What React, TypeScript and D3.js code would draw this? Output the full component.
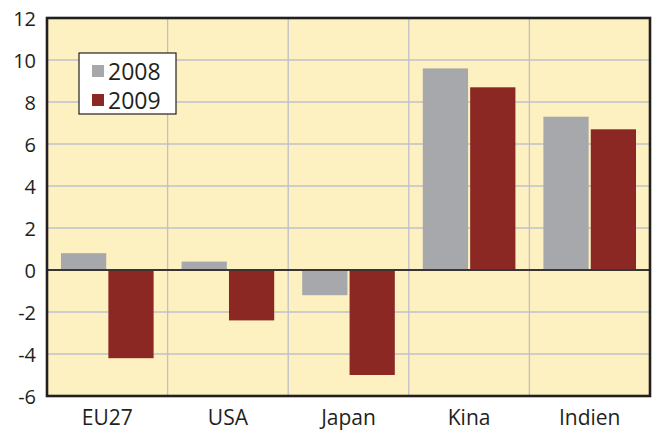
import React from "react";
import * as d3 from "d3";

const categories = ["EU27", "USA", "Japan", "Kina", "Indien"];
const seriesNames = ["2008", "2009"];
const values2008 = [0.8, 0.4, -1.2, 9.6, 7.3];
const values2009 = [-4.2, -2.4, -5.0, 8.7, 6.7];
const yTicks = [-6, -4, -2, 0, 2, 4, 6, 8, 10, 12];

const colors = ["#A7A8AB", "#8B2824"];
const W = 653, H = 430;
const M = { left: 47, right: 3, top: 18, bottom: 34 };
const FONT = "'Open Sans', 'Noto Sans', sans-serif";

export default function App() {
  const x = d3.scaleBand<string>().domain(categories).range([M.left, W - M.right]);
  const y = d3.scaleLinear().domain([-6, 12]).range([H - M.bottom, M.top]);
  const bw = x.bandwidth();
  const inner = d3.scaleBand<string>().domain(seriesNames).range([bw * 0.116, bw * 0.884]).paddingInner(0.045);
  const series = [values2008, values2009];
  return (
    <svg width={W} height={H} style={{ position: "absolute", left: 0, top: 0, fontFamily: FONT }}>
      <rect x={M.left} y={M.top} width={W - M.left - M.right} height={H - M.top - M.bottom} fill="#FDF1C1" />
      {yTicks.filter((t) => t !== 0 && t !== -6 && t !== 12).map((t) => (
        <line key={t} x1={M.left} x2={W - M.right} y1={y(t)} y2={y(t)} stroke="#BFC0C8" strokeWidth={1.3} />
      ))}
      {categories.slice(1).map((c) => (
        <line key={c} x1={x(c)} x2={x(c)} y1={M.top} y2={H - M.bottom} stroke="#BFC0C8" strokeWidth={1.3} />
      ))}
      {series.map((vals, si) =>
        vals.map((v, i) => (
          <rect
            key={si + "-" + i}
            x={(x(categories[i]) as number) + (inner(seriesNames[si]) as number)}
            y={y(Math.max(0, v))}
            width={inner.bandwidth()}
            height={Math.abs(y(v) - y(0))}
            fill={colors[si]}
          />
        ))
      )}
      <line x1={M.left} x2={W - M.right} y1={y(0)} y2={y(0)} stroke="#3A3535" strokeWidth={2} />
      <rect x={M.left} y={M.top} width={W - M.left - M.right} height={H - M.top - M.bottom} fill="none" stroke="#231F20" strokeWidth={2.6} />
      {yTicks.map((t) => (
        <text key={t} x={36} y={y(t)} textAnchor="end" dominantBaseline="central" fontSize={20} fill="#231F20">
          {t}
        </text>
      ))}
      {categories.map((c) => (
        <text key={c} x={(x(c) as number) + bw / 2} y={425} textAnchor="middle" fontSize={21} fill="#231F20">
          {c}
        </text>
      ))}
      <g>
        <rect x={79} y={53} width={97} height={61} fill="#FFFFFF" stroke="#231F20" strokeWidth={1.2} />
        {seriesNames.map((s, i) => (
          <g key={s}>
            <rect x={92} y={65 + i * 29} width={12} height={12} fill={colors[i]} />
            <text x={108} y={71 + i * 29} dominantBaseline="central" fontSize={23} fill="#231F20">
              {s}
            </text>
          </g>
        ))}
      </g>
    </svg>
  );
}
